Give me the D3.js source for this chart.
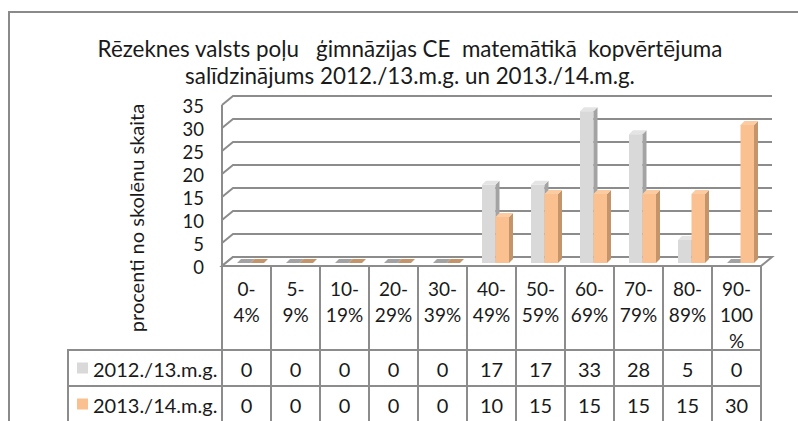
<!DOCTYPE html>
<html>
<head>
<meta charset="utf-8">
<script src="https://cdn.jsdelivr.net/npm/d3@7"></script>
<style>
  body { margin: 0; background: #fff; }
  svg { display: block; font-family: Lato, "Open Sans", sans-serif; }
</style>
</head>
<body>
<svg id="chart" width="798" height="421"></svg>
<script>
// chart data
const categories = [['0-', '4%'], ['5-', '9%'], ['10-', '19%'], ['20-', '29%'], ['30-', '39%'],
  ['40-', '49%'], ['50-', '59%'], ['60-', '69%'], ['70-', '79%'], ['80-', '89%'], ['90-', '100', '%']]
const seriesNames = ['2012./13.m.g.', '2013./14.m.g.']
const values2012 = [0, 0, 0, 0, 0, 17, 17, 33, 28, 5, 0]
const values2013 = [0, 0, 0, 0, 0, 10, 15, 15, 15, 15, 30]
const yTicks = [0, 5, 10, 15, 20, 25, 30, 35]
const titleLines = ['Rēzeknes valsts poļu   ģimnāzijas CE  matemātikā  kopvērtējuma',
  'salīdzinājums 2012./13.m.g. un 2013./14.m.g.']
const yTitle = 'procenti no skolēnu skaita'

const colors = [
  { front: '#d9d9d9', side: '#a3a3a3', top: '#e4e4e4' },
  { front: '#fac08f', side: '#c4956b', top: '#fbcba2' },
]
const gridColor = '#8c8c8c'
const textColor = '#1a1a1a'

const svg = d3.select('#chart')

// outer frame (only top and left are visible)
svg.append('path')
  .attr('d', 'M9,421 V12 H798')
  .attr('fill', 'none').attr('stroke', '#8a8a8a').attr('stroke-width', 2)

// title
svg.append('g').selectAll('text').data(titleLines).join('text')
  .attr('x', 410).attr('y', (d, i) => 48 + i * 27)
  .attr('text-anchor', 'middle').attr('dominant-baseline', 'central')
  .attr('font-size', 22.4).attr('fill', textColor)
  .style('white-space', 'pre')
  .text(d => d)

// geometry
const x0 = 222, colW = 49
const depthX = 11, depthY = 9
const xBand = d3.scaleBand().domain(d3.range(categories.length)).range([x0, x0 + colW * categories.length])
const yFront = d3.scaleLinear().domain([0, 35]).range([266, 105])
const yBack = v => yFront(v) - depthY
const xLeft = x0, xRight = x0 + colW * categories.length

const grid = svg.append('g').attr('stroke', gridColor).attr('stroke-width', 2).attr('fill', 'none')
// back wall grid lines plus left wall diagonals
yTicks.forEach(v => {
  grid.append('path')
    .attr('d', `M${xLeft},${yFront(v)} L${xLeft + depthX},${yBack(v)} H${xRight + depthX}`)
})
// left wall front edge
grid.append('line')
  .attr('x1', xLeft).attr('x2', xLeft)
  .attr('y1', yFront(35)).attr('y2', yFront(0))
// floor
grid.append('path')
  .attr('d', `M${xLeft},${yFront(0)} L${xLeft + depthX},${yBack(0)} H${xRight + depthX} L${xRight},${yFront(0)} Z`)
  .attr('fill', '#fff')

// y tick labels
svg.append('g').selectAll('text').data(yTicks).join('text')
  .attr('x', 204).attr('y', d => yFront(d) + 1)
  .attr('text-anchor', 'end').attr('dominant-baseline', 'central')
  .attr('font-size', 18.5).attr('fill', textColor)
  .text(d => d)

// y axis title
svg.append('text')
  .attr('transform', 'translate(136,218) rotate(-90)')
  .attr('text-anchor', 'middle').attr('dominant-baseline', 'central')
  .attr('font-size', 20).attr('fill', textColor)
  .text(yTitle)

// 3D bars
const barBase = yFront(0) - 3
const barW = 13.5, bdx = 4, bdy = 4
const barH = v => yFront(0) - yFront(v)
const bars = svg.append('g')
;[values2012, values2013].forEach((vals, s) => {
  const c = colors[s]
  vals.forEach((v, i) => {
    const x = xBand(i) + 15 + s * barW
    const yt = barBase - barH(v)
    const g = bars.append('g')
    if (v > 0) {
      g.append('rect').attr('x', x).attr('y', yt).attr('width', barW).attr('height', barH(v))
        .attr('fill', c.front)
      g.append('path')
        .attr('d', `M${x + barW},${yt} L${x + barW + bdx},${yt - bdy} V${barBase - bdy} L${x + barW},${barBase} Z`)
        .attr('fill', c.side)
    }
    g.append('path')
      .attr('d', `M${x},${yt} L${x + bdx},${yt - bdy} H${x + barW + bdx} L${x + barW},${yt} Z`)
      .attr('fill', v > 0 ? c.top : c.side)
  })
})

// data table
const table = svg.append('g').attr('fill', textColor)
const hdrTop = yFront(0), hdrBot = 350, row1 = 386, row2 = 424
const legendX = 68
const tl = table.append('g').attr('stroke', gridColor).attr('stroke-width', 2).attr('fill', 'none')
tl.append('path').attr('d', `M${xLeft},${hdrTop} V${row2}`)
d3.range(1, categories.length + 1).forEach(i => {
  tl.append('line').attr('x1', xBand(i - 1) + colW).attr('x2', xBand(i - 1) + colW)
    .attr('y1', hdrTop).attr('y2', row2)
})
tl.append('path').attr('d', `M${legendX},${row2} V${hdrBot} H${xRight}`)
tl.append('line').attr('x1', legendX).attr('x2', xRight).attr('y1', row1).attr('y2', row1)

// category labels
categories.forEach((lines, i) => {
  table.append('g').selectAll('text').data(lines).join('text')
    .attr('x', xBand(i) + colW / 2).attr('y', (d, k) => 288 + k * 26)
    .attr('text-anchor', 'middle').attr('dominant-baseline', 'central')
    .attr('font-size', 19)
    .text(d => d)
})

// values and legend
const rowsY = [(hdrBot + row1) / 2, (row1 + 422) / 2]
;[values2012, values2013].forEach((vals, s) => {
  table.append('rect').attr('x', 77).attr('y', rowsY[s] - 5.5).attr('width', 11).attr('height', 11)
    .attr('fill', colors[s].front)
  table.append('text').attr('x', 93).attr('y', rowsY[s] + 1)
    .attr('dominant-baseline', 'central').attr('font-size', 20)
    .text(seriesNames[s])
  table.append('g').selectAll('text').data(vals).join('text')
    .attr('x', (d, i) => xBand(i) + colW / 2).attr('y', rowsY[s] + 1)
    .attr('text-anchor', 'middle').attr('dominant-baseline', 'central')
    .attr('font-size', 20)
    .text(d => d)
})
</script>
</body>
</html>
